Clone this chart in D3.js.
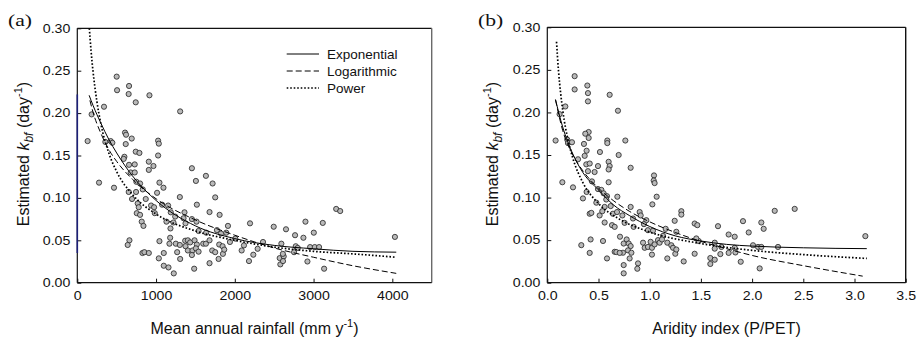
<!DOCTYPE html>
<html>
<head>
<meta charset="utf-8">
<script src="https://cdn.jsdelivr.net/npm/d3@7/dist/d3.min.js"></script>
<style>
  body { margin: 0; background: #fff; }
  svg { display: block; font-family: "Liberation Sans", Arial, sans-serif; }
</style>
</head>
<body>
<svg width="917" height="341"></svg>
<script>

  // DATA  (panel a: rainfall, panel b: aridity index)

  var rainX = [131,182,339,276,356,424,445,466,500,505,657,652,742,916,1306,606,619,691,615,1026,
    1035,598,589,742,789,1026,908,967,657,729,678,729,908,1455,1633,1506,1718,750,797,1043,
    1094,831,653,746,1013,695,869,1302,1751,767,780,755,937,975,1077,1153,984,797,1518,1187,
    1361,1679,1807,1243,1221,1132,1349,1455,1514,1913,818,840,1183,1374,1540,1637,1773,1824,1891,2193,
    2494,2650,2765,2871,2897,3003,3117,3287,3338,4033,662,640,827,852,908,1043,1035,1098,1098,1158,
    1225,1179,1170,1251,1302,1306,1268,1370,1404,1433,1374,1404,1463,1455,1489,1518,1506,1540,1484,1599,
    1633,1679,1713,1751,1679,1802,1845,1794,1849,1866,1938,2006,2087,2116,2180,2235,2290,2358,2578,2591,
    2570,2621,2610,2612,2752,2774,2799,2922,2956,3015,3070,3134];
  var rainK = [0.167,0.1985,0.2075,0.118,0.166,0.167,0.165,0.112,0.243,0.227,0.232,0.2225,0.2127,0.221,0.202,0.177,0.1745,0.170,0.1635,0.1675,
    0.164,0.1485,0.146,0.1545,0.153,0.150,0.1427,0.1376,0.139,0.1395,0.130,0.130,0.133,0.135,0.126,0.120,0.117,0.119,0.117,0.118,
    0.112,0.110,0.107,0.107,0.106,0.0987,0.0987,0.101,0.1006,0.0935,0.089,0.082,0.091,0.089,0.092,0.091,0.082,0.080,0.092,0.083,
    0.083,0.0833,0.080,0.078,0.071,0.072,0.076,0.075,0.072,0.067,0.072,0.067,0.064,0.070,0.061,0.059,0.062,0.058,0.059,0.070,
    0.066,0.063,0.056,0.053,0.072,0.059,0.0705,0.087,0.0845,0.054,0.050,0.0445,0.035,0.036,0.035,0.049,0.0287,0.035,0.020,0.018,
    0.011,0.053,0.046,0.046,0.0445,0.028,0.036,0.0495,0.050,0.0475,0.043,0.038,0.038,0.0326,0.050,0.045,0.0405,0.0366,0.0165,0.046,
    0.046,0.050,0.038,0.036,0.023,0.045,0.043,0.028,0.034,0.039,0.048,0.052,0.038,0.044,0.0255,0.033,0.040,0.048,0.0216,0.046,
    0.029,0.031,0.034,0.0255,0.036,0.043,0.041,0.025,0.042,0.042,0.042,0.0165];

  var aridX = [0.081,0.120,0.176,0.147,0.251,0.195,0.202,0.241,0.267,0.267,0.391,0.397,0.397,0.609,0.690,0.404,0.371,0.404,0.358,0.586,
    0.586,0.762,0.365,0.384,0.514,0.697,0.300,0.381,0.414,0.495,0.599,0.609,0.599,0.814,0.397,0.462,1.042,1.039,1.048,0.599,
    0.436,0.384,0.348,0.495,0.528,0.550,0.583,0.576,0.684,1.068,0.479,1.026,0.560,0.619,0.814,0.511,0.537,0.414,0.430,0.641,
    0.681,0.632,0.658,0.560,0.755,0.733,0.837,0.902,0.912,0.967,0.843,0.944,1.309,1.309,1.244,0.983,1.032,1.156,1.260,1.439,
    1.465,1.667,1.771,1.830,1.911,1.967,2.090,2.113,2.221,2.416,3.106,0.332,0.423,0.414,0.544,0.583,0.658,0.674,0.710,0.739,
    0.746,0.775,0.795,0.814,0.788,0.821,0.746,0.746,0.804,0.886,0.879,0.707,0.935,0.951,0.983,1.009,1.022,1.048,1.022,1.081,
    1.097,1.130,1.120,1.172,1.211,1.228,1.172,1.250,1.260,1.332,1.439,1.478,1.455,1.635,1.635,1.592,1.592,1.635,1.700,1.690,
    1.771,1.830,1.837,1.889,2.009,2.058,2.090,2.074,2.253];
  var aridK = [0.167,0.198,0.207,0.118,0.112,0.168,0.164,0.165,0.2426,0.227,0.2316,0.2227,0.213,0.2207,0.202,0.177,0.175,0.170,0.163,0.167,
    0.164,0.167,0.149,0.155,0.1535,0.150,0.145,0.139,0.140,0.137,0.142,0.137,0.133,0.135,0.131,0.130,0.126,0.120,0.117,0.118,
    0.119,0.1066,0.099,0.110,0.109,0.105,0.1016,0.0977,0.101,0.101,0.094,0.092,0.089,0.090,0.089,0.079,0.084,0.081,0.082,0.081,
    0.083,0.0676,0.0656,0.0707,0.0703,0.079,0.0754,0.083,0.079,0.0734,0.0656,0.0688,0.084,0.080,0.0727,0.0617,0.061,0.0633,0.0598,0.0695,
    0.0676,0.0664,0.0566,0.054,0.0723,0.059,0.0707,0.0633,0.0844,0.0867,0.0547,0.0441,0.0508,0.035,0.049,0.0285,0.0363,0.036,0.054,0.0352,
    0.046,0.0508,0.046,0.043,0.038,0.0352,0.0207,0.011,0.0285,0.0227,0.0164,0.035,0.047,0.041,0.042,0.048,0.041,0.045,0.033,0.050,
    0.047,0.055,0.0508,0.047,0.044,0.041,0.0285,0.034,0.039,0.025,0.034,0.049,0.052,0.047,0.040,0.029,0.022,0.027,0.042,0.0336,
    0.035,0.041,0.0355,0.0246,0.044,0.042,0.042,0.0168,0.042];

  // fitted curves
  var rainFitX = [150,200,300,400,500,700,1000,1500,2000,2500,3000,3500,4050];
  var rainExp  = [0.221,0.209,0.188,0.169,0.153,0.126,0.097,0.067,0.052,0.044,0.040,0.037,0.036];
  var rainLogX = [160,200,300,400,500,700,1000,1500,2000,2500,3000,3500,4050];
  var rainLog  = [0.215,0.201,0.176,0.157,0.143,0.122,0.099,0.074,0.056,0.041,0.030,0.020,0.011];
  var rainPowX = [153,175,200,250,300,400,500,700,1000,1500,2000,2500,3000,3500,4050];
  var rainPow  = [0.300,0.273,0.249,0.213,0.187,0.153,0.131,0.104,0.081,0.061,0.050,0.042,0.037,0.034,0.030];

  var aridFitX = [0.08,0.15,0.25,0.35,0.5,0.65,0.8,1.0,1.25,1.5,1.75,2.0,2.5,3.12];
  var aridExp  = [0.215,0.183,0.151,0.129,0.109,0.091,0.079,0.066,0.055,0.049,0.045,0.043,0.041,0.040];
  var aridLogX = [0.08,0.15,0.25,0.35,0.5,0.65,0.8,1.0,1.25,1.5,1.75,2.0,2.5,3.08];
  var aridLog  = [0.215,0.179,0.150,0.131,0.111,0.096,0.084,0.0715,0.059,0.0485,0.040,0.032,0.020,0.0077];
  var aridPowX = [0.09,0.11,0.13,0.153,0.2,0.25,0.35,0.5,0.7,1.0,1.5,2.0,2.5,3.12];
  var aridPow  = [0.283,0.248,0.223,0.2005,0.169,0.146,0.117,0.093,0.075,0.0595,0.046,0.038,0.033,0.0285];

  var kTicks = [0, 0.05, 0.10, 0.15, 0.20, 0.25, 0.30];
  var rainTicks = [0, 1000, 2000, 3000, 4000];
  var aridTicks = [0, 0.5, 1.0, 1.5, 2.0, 2.5, 3.0, 3.5];
  var legendNames = ["Exponential", "Logarithmic", "Power"];

  // SETUP

  var svg = d3.select("svg");
  var styles = [
    { dash: null, width: 1 },
    { dash: "6,3", width: 1 },
    { dash: "1.6,1.9", width: 1.7 }
  ];

  // stretch text horizontally around its anchor
  function stretch(sel, k) {
    sel.each(function () {
      var t = d3.select(this), x = +t.attr("x") || 0;
      t.attr("transform", "translate(" + x + ",0) scale(" + k + ",1) translate(" + (-x) + ",0)");
    });
  }

  function panel(o) {
    var x = d3.scaleLinear().domain(o.xDomain).range([o.left, o.right]),
      y = d3.scaleLinear().domain([0, 0.30]).range([o.bottom, o.top]);

    var g = svg.append("g");

    g.append("g")
      .attr("transform", "translate(0," + o.bottom + ")")
      .call(d3.axisBottom(x).tickValues(o.xTicks).tickFormat(d3.format(o.xFmt))
        .tickSizeInner(-4).tickSizeOuter(0).tickPadding(9))
      .call(function (a) {
        a.select(".domain").remove();
        a.selectAll("line").attr("stroke", "#111");
        a.selectAll("text").attr("font-size", 12).attr("fill", "#111")
          .attr("font-family", "Liberation Sans, Arial, sans-serif");
        stretch(a.selectAll("text"), 1.18);
      });

    g.append("g")
      .attr("transform", "translate(" + o.left + ",0)")
      .call(d3.axisLeft(y).tickValues(kTicks).tickFormat(d3.format(".2f"))
        .tickSizeInner(-4).tickSizeOuter(0).tickPadding(7))
      .call(function (a) {
        a.select(".domain").remove();
        a.selectAll("line").attr("stroke", "#111");
        a.selectAll("text").attr("font-size", 12).attr("fill", "#111")
          .attr("font-family", "Liberation Sans, Arial, sans-serif");
        stretch(a.selectAll("text"), 1.18);
      });

    // frame
    g.append("line").attr("x1", o.left).attr("x2", o.right).attr("y1", o.top).attr("y2", o.top)
      .attr("stroke", "#111").attr("stroke-width", 1.2);
    g.append("line").attr("x1", o.right).attr("x2", o.right).attr("y1", o.top).attr("y2", o.bottom)
      .attr("stroke", o.rightColor).attr("stroke-width", 1.4);
    g.append("line").attr("x1", o.left).attr("x2", o.right).attr("y1", o.bottom).attr("y2", o.bottom)
      .attr("stroke", "#111").attr("stroke-width", 1.2);
    g.append("line").attr("x1", o.left).attr("x2", o.left).attr("y1", o.top).attr("y2", o.bottom)
      .attr("stroke", "#111").attr("stroke-width", 1.2);
    if (o.tint) {
      g.append("line").attr("x1", o.left).attr("x2", o.left)
        .attr("y1", y(o.tint[0])).attr("y2", y(o.tint[1]))
        .attr("stroke", "#1c1f78").attr("stroke-width", 1.6);
    }

    // points
    g.append("g").selectAll("circle")
      .data(o.px.map(function (d, i) { return [d, o.py[i]]; }))
      .enter().append("circle")
      .attr("cx", function (d) { return x(d[0]); })
      .attr("cy", function (d) { return y(d[1]); })
      .attr("r", 2.6)
      .attr("fill", "#b9b9b9")
      .attr("stroke", "#222")
      .attr("stroke-width", 0.8);

    // fitted curves
    var line = d3.line()
      .x(function (d) { return x(d[0]); })
      .y(function (d) { return y(d[1]); })
      .curve(d3.curveMonotoneX);

    o.curves.forEach(function (c, i) {
      g.append("path")
        .datum(c[0].map(function (d, j) { return [d, c[1][j]]; }))
        .attr("d", line)
        .attr("fill", "none")
        .attr("stroke", "#000")
        .attr("stroke-width", styles[i].width)
        .attr("stroke-dasharray", styles[i].dash);
    });

    // panel letter
    var lt = g.append("text").attr("x", o.letterX).attr("y", 26)
      .attr("font-family", "Liberation Serif, Times New Roman, serif")
      .attr("font-size", 16).attr("fill", "#111").text(o.letter);
    stretch(lt, 1.35);

    // x title
    var xt = g.append("text")
      .attr("x", (o.left + o.right) / 2).attr("y", 333.5)
      .attr("text-anchor", "middle").attr("font-size", 16).attr("fill", "#111");
    o.xTitle(xt);

    // y title
    var yt = g.append("text")
      .attr("transform", "translate(" + o.yTitleX + ",154) rotate(-90)")
      .attr("text-anchor", "middle").attr("font-size", 16).attr("fill", "#111");
    yt.append("tspan").text("Estimated ");
    yt.append("tspan").attr("font-style", "italic").text("k");
    yt.append("tspan").attr("font-style", "italic").attr("font-size", 12).attr("dy", 4).text("bf");
    yt.append("tspan").attr("dy", -4).text(" (day");
    yt.append("tspan").attr("font-size", 11).attr("dy", -7).text("-1");
    yt.append("tspan").attr("dy", 7).text(")");

    return { x: x, y: y, g: g };
  }

  // DRAWING

  var pa = panel({
    left: 77.3, right: 431.7, top: 28.3, bottom: 282.7,
    xDomain: [0, 4500], xTicks: rainTicks, xFmt: "d",
    px: rainX, py: rainK,
    curves: [[rainFitX, rainExp], [rainLogX, rainLog], [rainPowX, rainPow]],
    rightColor: "#6a6a6a", tint: [0.222, 0.035],
    letter: "(a)", letterX: 8, yTitleX: 28.5,
    xTitle: function (t) {
      t.append("tspan").text("Mean annual rainfall (mm y");
      t.append("tspan").attr("font-size", 11).attr("dy", -7).text("-1");
      t.append("tspan").attr("dy", 7).text(")");
    }
  });

  panel({
    left: 547.3, right: 905.7, top: 27.3, bottom: 282.7,
    xDomain: [0, 3.5], xTicks: aridTicks, xFmt: ".1f",
    px: aridX, py: aridK,
    curves: [[aridFitX, aridExp], [aridLogX, aridLog], [aridPowX, aridPow]],
    rightColor: "#111", tint: null,
    letter: "(b)", letterX: 478, yTitleX: 498,
    xTitle: function (t) { t.text("Aridity index (P/PET)"); }
  });

  // legend (panel a)
  var leg = svg.append("g").selectAll("g")
    .data(legendNames)
    .enter().append("g")
    .attr("transform", function (d, i) { return "translate(0," + (54 + i * 17) + ")"; });

  leg.append("line")
    .attr("x1", 286.7).attr("x2", 319).attr("y1", 0).attr("y2", 0)
    .attr("stroke", "#000")
    .attr("stroke-width", function (d, i) { return styles[i].width; })
    .attr("stroke-dasharray", function (d, i) { return styles[i].dash; });

  leg.append("text")
    .attr("x", 327).attr("y", 5)
    .attr("font-size", 13.5).attr("fill", "#111")
    .text(function (d) { return d; });

</script>
</body>
</html>
